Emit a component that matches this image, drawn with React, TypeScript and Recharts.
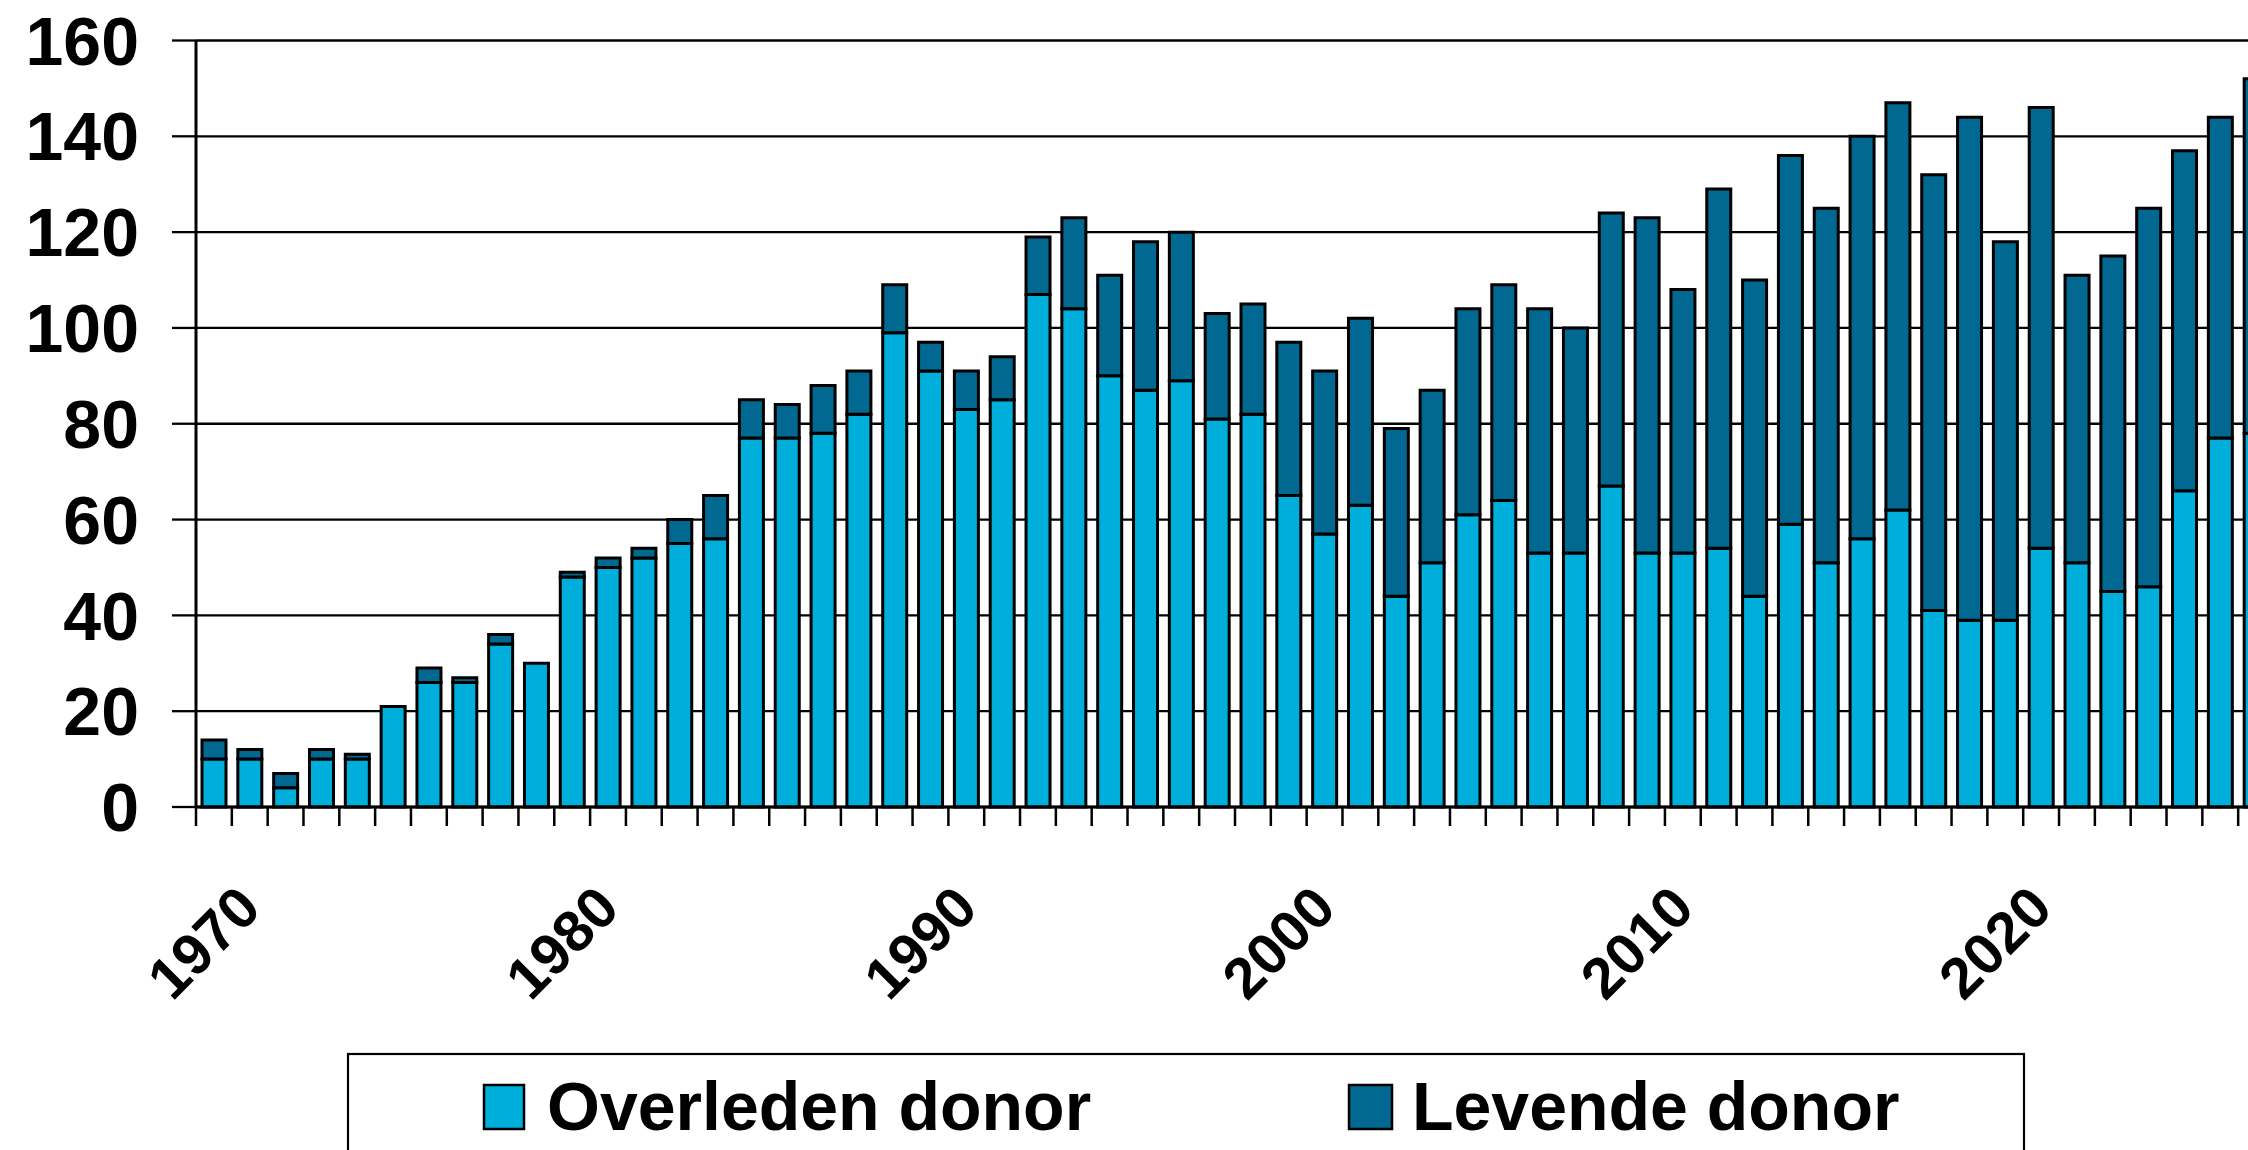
import React from 'react';
import { BarChart, Bar, XAxis, YAxis, CartesianGrid } from 'recharts';

const years = [
  1970, 1971, 1972, 1973, 1974, 1975, 1976, 1977, 1978, 1979,
  1980, 1981, 1982, 1983, 1984, 1985, 1986, 1987, 1988, 1989,
  1990, 1991, 1992, 1993, 1994, 1995, 1996, 1997, 1998, 1999,
  2000, 2001, 2002, 2003, 2004, 2005, 2006, 2007, 2008, 2009,
  2010, 2011, 2012, 2013, 2014, 2015, 2016, 2017, 2018, 2019,
  2020, 2021, 2022, 2023, 2024, 2025, 2026, 2027,
];

const overleden = [
  10, 10, 4, 10, 10, 21, 26, 26, 34, 30,
  48, 50, 52, 55, 56, 77, 77, 78, 82, 99,
  91, 83, 85, 107, 104, 90, 87, 89, 81, 82,
  65, 57, 63, 44, 51, 61, 64, 53, 53, 67,
  53, 53, 54, 44, 59, 51, 56, 62, 41, 39,
  39, 54, 51, 45, 46, 66, 77, 78,
];

const levende = [
  4, 2, 3, 2, 1, 0, 3, 1, 2, 0,
  1, 2, 2, 5, 9, 8, 7, 10, 9, 10,
  6, 8, 9, 12, 19, 21, 31, 31, 22, 23,
  32, 34, 39, 35, 36, 43, 45, 51, 47, 57,
  70, 55, 75, 66, 77, 74, 84, 85, 91, 105,
  79, 92, 60, 70, 79, 71, 67, 74,
];

const yTicks = [0, 20, 40, 60, 80, 100, 120, 140, 160];
const labelYears = [1970, 1980, 1990, 2000, 2010, 2020];
const legendItems = [
  { name: 'Overleden donor', color: '#00AEDB' },
  { name: 'Levende donor', color: '#006891' },
];

const LIGHT = '#00AEDB';
const DARK = '#006891';
const FONT = "'Liberation Sans', Arial, Helvetica, sans-serif";

const CHART_W = 2274;
const CHART_H = 1150;
const Y_AXIS_W = 196;
const PLOT_W = CHART_W - Y_AXIS_W;
const BAND = PLOT_W / years.length;

const data = years.map((year, i) => ({
  year,
  overleden: overleden[i],
  levende: levende[i],
}));

const XTick = (props: any) => {
  const { x, y, payload } = props;
  const yr = payload.value;
  const lx = x + 49.5;
  const ly = y + 104;
  return (
    <g>
      <line x1={x - BAND / 2} x2={x - BAND / 2} y1={y} y2={y + 19} stroke="#000" strokeWidth={2.5} />
      {labelYears.includes(yr) && (
        <text
          x={lx}
          y={ly}
          transform={`rotate(-45, ${lx}, ${ly})`}
          textAnchor="end"
          fontSize={58}
          fontWeight="bold"
          fontFamily={FONT}
          fill="#000"
        >
          {yr}
        </text>
      )}
    </g>
  );
};

const Legendbox = () => {
  const pos = [
    { sx: 484, sw: 40, tx: 547 },
    { sx: 1349, sw: 43, tx: 1412 },
  ];
  return (
    <svg
      width={2248}
      height={1150}
      style={{ position: 'absolute', left: 0, top: 0, pointerEvents: 'none' }}
    >
      <rect x={348} y={1054} width={1676} height={200} fill="#fff" stroke="#000" strokeWidth={2.2} />
      {legendItems.map((it, i) => (
        <g key={it.name}>
          <rect x={pos[i].sx} y={1085} width={pos[i].sw} height={44} fill={it.color} stroke="#000" strokeWidth={2.5} />
          <text x={pos[i].tx} y={1130} fontSize={68} fontWeight="bold" fontFamily={FONT} fill="#000">
            {it.name}
          </text>
        </g>
      ))}
    </svg>
  );
};

export default function App() {
  return (
    <div
      style={{
        position: 'fixed',
        left: 0,
        top: 0,
        width: 2248,
        height: 1150,
        overflow: 'hidden',
        background: '#fff',
      }}
    >
      <BarChart
        width={CHART_W}
        height={CHART_H}
        data={data}
        margin={{ top: 40.5, right: 0, bottom: 283, left: 0 }}
        barSize={24}
        barGap={0}
      >
        <CartesianGrid vertical={false} stroke="#000" strokeWidth={2.3} strokeOpacity={1} />
        <XAxis
          dataKey="year"
          interval={0}
          height={60}
          tickSize={0}
          tickMargin={0}
          tickLine={false}
          axisLine={{ stroke: '#000', strokeWidth: 3 }}
          tick={<XTick />}
        />
        <YAxis
          width={Y_AXIS_W}
          domain={[0, 160]}
          ticks={yTicks}
          interval={0}
          tickSize={24}
          tickMargin={33}
          tickLine={{ stroke: '#000', strokeWidth: 2.3 }}
          axisLine={{ stroke: '#000', strokeWidth: 3 }}
          tick={{ fontSize: 68, fontWeight: 'bold', fill: '#000', fontFamily: FONT }}
        />
        <Bar dataKey="overleden" stackId="a" fill={LIGHT} stroke="#000" strokeWidth={3} isAnimationActive={false} />
        <Bar dataKey="levende" stackId="a" fill={DARK} stroke="#000" strokeWidth={3} isAnimationActive={false} />
      </BarChart>
      <Legendbox />
    </div>
  );
}
